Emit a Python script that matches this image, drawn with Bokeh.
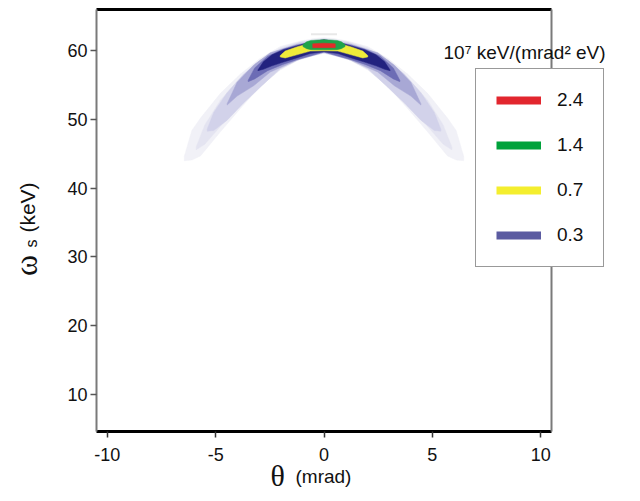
import math
from bokeh.plotting import figure
from bokeh.models import (Range1d, FixedTicker, LinearAxis, Legend, LegendItem, Label)
from bokeh.embed import file_html
from bokeh.resources import INLINE

# ---------------- data ----------------
x_ticks = [-10, -5, 0, 5, 10]
x_tick_labels = ["-10", "-5", "0", "5", "10"]
y_ticks = [10, 20, 30, 40, 50, 60]
x_lim = [-10.5, 10.5]
y_lim = [4.6, 66.0]

legend_levels = ["2.4", "1.4", "0.7", "0.3"]
legend_colors = ["#e2262e", "#00a23b", "#f4ee2e", "#5b5ba1"]
legend_title = "10\u2077 keV/(mrad\u00b2 eV)"

# density contour bands, left half of the (symmetric) arc: theta (mrad), upper/lower omega (keV)
band_colors = ["#f1f1f7", "#e4e4f1", "#d2d2ea", "#a8a8d5", "#6c6cb5", "#22227f",
               "#efeb3a", "#1fa34a", "#e22a2a"]

l1_theta = [-6.45, -6.1, -5.7, -4.78, -3.86, -2.94, -2.02, -1.10, -0.41, 0.0]
l1_upper = [44.6, 48.4, 50.2, 53.8, 56.6, 58.9, 60.6, 61.4, 61.8, 61.9]
l1_lower = [44.0, 44.1, 44.7, 48.2, 51.6, 54.8, 57.2, 58.8, 59.5, 59.6]

l2_theta = [-5.9, -5.5, -4.78, -3.86, -2.94, -2.02, -1.10, 0.0]
l2_upper = [46.0, 49.2, 52.8, 56.0, 58.6, 60.4, 61.3, 61.8]
l2_lower = [45.6, 46.4, 49.0, 52.0, 54.8, 57.3, 58.8, 59.65]

l3_theta = [-5.39, -5.09, -4.47, -3.71, -2.94, -2.02, -1.10, 0.0]
l3_upper = [48.6, 51.0, 53.9, 56.6, 58.6, 60.2, 61.2, 61.7]
l3_lower = [48.3, 48.4, 49.9, 52.4, 54.7, 57.4, 58.9, 59.7]

l4_theta = [-4.47, -4.01, -3.25, -2.48, -1.26, 0.0]
l4_upper = [52.3, 55.4, 57.9, 59.7, 60.9, 61.6]
l4_lower = [52.1, 53.4, 54.9, 56.9, 58.6, 59.8]

l5_theta = [-3.5, -3.2, -2.6, -1.9, -1.26, 0.0]
l5_upper = [55.7, 57.5, 59.2, 60.2, 60.8, 61.6]
l5_lower = [55.5, 55.9, 57.1, 58.0, 58.7, 59.8]

l6_theta = [-3.05, -2.8, -2.4, -1.87, -1.26, -0.64, 0.0]
l6_upper = [57.2, 58.4, 59.4, 60.15, 60.7, 61.25, 61.6]
l6_lower = [57.1, 57.3, 57.8, 58.35, 58.95, 59.6, 59.85]

l7_theta = [-2.02, -1.79, -1.26, -0.64, 0.0]
l7_upper = [59.3, 59.95, 60.55, 61.1, 61.55]
l7_lower = [59.1, 58.95, 59.4, 59.95, 60.0]

l8_theta = [-0.97, -0.8, -0.6, 0.0]
l8_upper = [60.9, 61.3, 61.5, 61.6]
l8_lower = [60.6, 60.3, 60.15, 60.15]

l9_theta = [-0.52, -0.3, 0.0]
l9_upper = [61.0, 61.05, 61.1]
l9_lower = [60.45, 60.45, 60.45]

streak_theta = [-0.6, 0.6]
streak_omega = [62.4, 62.4]

bands = [(l1_theta, l1_upper, l1_lower), (l2_theta, l2_upper, l2_lower),
         (l3_theta, l3_upper, l3_lower), (l4_theta, l4_upper, l4_lower),
         (l5_theta, l5_upper, l5_lower), (l6_theta, l6_upper, l6_lower),
         (l7_theta, l7_upper, l7_lower), (l8_theta, l8_upper, l8_lower),
         (l9_theta, l9_upper, l9_lower)]


def band_polygon(th, up, lo):
    full_th = list(th) + [-t for t in reversed(th[:-1])]
    full_up = list(up) + list(reversed(up[:-1]))
    full_lo = list(lo) + list(reversed(lo[:-1]))
    return full_th + full_th[::-1], full_up + full_lo[::-1]


# ---------------- layout: the frame covers the whole canvas ----------------
W, H = 640, 501
BOX_L, BOX_R, BOX_T, BOX_B = 96, 551, 9, 431   # pixel box of the plotting area
sx = (BOX_R - BOX_L) / (x_lim[1] - x_lim[0])
sy = (BOX_B - BOX_T) / (y_lim[1] - y_lim[0])
xr = Range1d(x_lim[0] - BOX_L / sx, x_lim[1] + (W - BOX_R) / sx)
yr = Range1d(y_lim[0] - (H - BOX_B) / sy, y_lim[1] + BOX_T / sy)

p = figure(width=W, height=H, output_backend="svg", toolbar_location=None,
           x_range=xr, y_range=yr, x_axis_location=None, y_axis_location=None,
           min_border=0, min_border_left=0, min_border_right=0, min_border_top=0,
           min_border_bottom=0, background_fill_color="white", border_fill_color="white")
p.outline_line_color = None
p.grid.visible = False

FONT = "Liberation Sans"

xa = LinearAxis(fixed_location=y_lim[0], bounds=(x_lim[0], x_lim[1]),
                ticker=FixedTicker(ticks=x_ticks))
xa.major_label_overrides = {t: s for t, s in zip(x_ticks, x_tick_labels)}
xa.major_label_text_font = FONT
xa.major_label_text_font_size = "18px"
xa.major_label_text_color = "#111111"
xa.major_label_standoff = 10
xa.major_tick_out = 6
xa.major_tick_in = 0
xa.major_tick_line_color = "#333333"
xa.major_tick_line_width = 1.5
xa.minor_tick_line_color = None
xa.axis_line_color = "black"
xa.axis_line_width = 3
p.add_layout(xa, "below")

ya = LinearAxis(fixed_location=x_lim[0], bounds=(y_lim[0], y_lim[1]),
                ticker=FixedTicker(ticks=y_ticks))
ya.major_label_text_font = FONT
ya.major_label_text_font_size = "18px"
ya.major_label_text_color = "#111111"
ya.major_label_standoff = 3
ya.major_tick_out = 6
ya.major_tick_in = 0
ya.major_tick_line_color = "#555555"
ya.major_tick_line_width = 1.5
ya.minor_tick_line_color = None
ya.axis_line_color = "#7a7a7a"
ya.axis_line_width = 2
p.add_layout(ya, "left")

top_axis = LinearAxis(fixed_location=y_lim[1], bounds=(x_lim[0], x_lim[1]),
                      ticker=FixedTicker(ticks=[]), major_label_text_font_size="0px",
                      major_tick_out=0, minor_tick_out=0, axis_line_color="black",
                      axis_line_width=3)
right_axis = LinearAxis(fixed_location=x_lim[1], bounds=(y_lim[0], y_lim[1]),
                        ticker=FixedTicker(ticks=[]), major_label_text_font_size="0px",
                        major_tick_out=0, minor_tick_out=0, axis_line_color="#7a7a7a",
                        axis_line_width=2)
p.add_layout(top_axis, "above")
p.add_layout(right_axis, "right")

# density bands
for (th, up, lo), col in zip(bands, band_colors):
    xs, ys = band_polygon(th, up, lo)
    p.patch(xs, ys, fill_color=col, line_color=col, line_width=0.5)

p.line(streak_theta, streak_omega, line_color="#e8e8e8", line_width=2)

# legend (custom; placeholder renderers draw nothing in the plot)
items = []
nan = float("nan")
for lab, col in zip(legend_levels, legend_colors):
    r = p.line(x=[nan], y=[nan], line_color=col, line_width=8, line_cap="butt")
    items.append(LegendItem(label=lab, renderers=[r]))
legend = Legend(items=items, location=(475, H - 267), padding=20, spacing=23,
                glyph_width=45, glyph_height=20, label_height=20, label_standoff=16,
                label_text_font=FONT, label_text_font_size="19px",
                label_text_color="#111111",
                border_line_color="#333333", border_line_width=1.5,
                background_fill_color="white", background_fill_alpha=1.0, margin=0)
p.add_layout(legend)

p.add_layout(Label(x=443, y=H - 52, x_units="screen", y_units="screen", text=legend_title,
                   text_font=FONT, text_font_size="19px", text_color="#111111",
                   text_baseline="alphabetic"))

# axis titles
p.add_layout(Label(x=270, y=H - 475, x_units="screen", y_units="screen", text="\u03b8",
                   text_font="Liberation Serif", text_font_size="30px",
                   text_color="#111111", text_baseline="alphabetic"))
p.add_layout(Label(x=295, y=H - 476, x_units="screen", y_units="screen", text="(mrad)",
                   text_font=FONT, text_font_size="19px", text_color="#111111",
                   text_baseline="alphabetic"))

p.add_layout(Label(x=25, y=H - 265, x_units="screen", y_units="screen", text="\u03c9",
                   angle=math.pi / 2, text_font="Liberation Serif", text_font_size="32px",
                   text_color="#111111", text_align="center", text_baseline="alphabetic"))
p.add_layout(Label(x=31, y=H - 243, x_units="screen", y_units="screen", text="s",
                   angle=math.pi / 2, text_font=FONT, text_font_size="16px",
                   text_color="#111111", text_align="center", text_baseline="alphabetic"))
p.add_layout(Label(x=27, y=H - 207, x_units="screen", y_units="screen", text="(keV)",
                   angle=math.pi / 2, text_font=FONT, text_font_size="21px",
                   text_color="#111111", text_align="center", text_baseline="alphabetic"))

open("out.html", "w").write(file_html(p, INLINE))
